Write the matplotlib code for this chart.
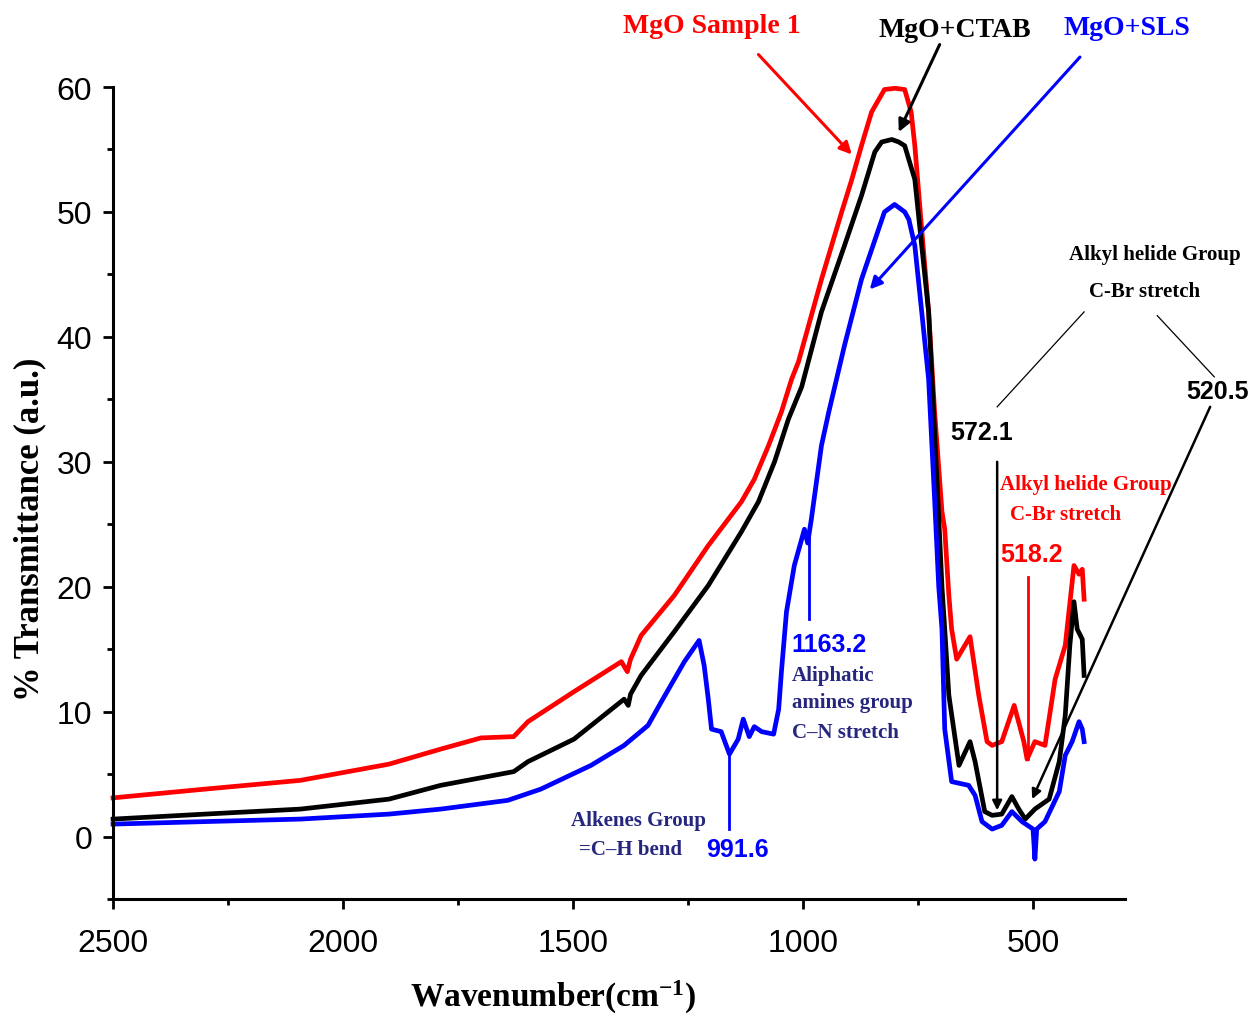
import matplotlib
matplotlib.use('Agg')
import matplotlib.pyplot as plt
from matplotlib.ticker import MultipleLocator

# FTIR spectra (wavenumber cm-1, % transmittance)
wn_red = [2500, 2300, 2093, 1900, 1788, 1700, 1629, 1598, 1498, 1395, 1382, 1375, 1352,
          1280, 1206, 1134, 1106, 1075, 1047, 1025, 1010, 960, 916, 894, 873, 851, 823, 800, 779,
          765, 757, 742, 727, 714, 698, 692, 683, 677, 666, 637, 618, 600, 589, 568, 541, 520,
          513, 496, 474, 452, 430, 411, 400, 393, 389]
t_red = [3.1, 3.8, 4.5, 5.8, 7.0, 7.9, 8.0, 9.2, 11.6, 14.0, 13.2, 14.2, 16.1,
         19.3, 23.3, 26.8, 28.6, 31.3, 34.0, 36.6, 38.0, 44.6, 50.0, 52.6, 55.3, 58.0, 59.8, 59.9, 59.8,
         58.0, 55.3, 48.6, 42.0, 34.0, 26.0, 24.6, 19.3, 16.6, 14.2, 16.0, 11.3, 7.6, 7.3, 7.6, 10.5, 7.6,
         6.2, 7.6, 7.3, 12.6, 15.3, 21.7, 21.0, 21.4, 19.0]

wn_black = [2500, 2300, 2093, 1900, 1788, 1629, 1598, 1498, 1389, 1380, 1375, 1352, 1280,
            1206, 1134, 1097, 1062, 1032, 1003, 960, 910, 873, 844, 829, 807, 792, 779, 757, 742,
            727, 716, 705, 698, 692, 683, 661, 637, 626, 605, 589, 568, 546, 531, 517, 496,
            465, 443, 430, 420, 411, 404, 393, 389]
t_black = [1.4, 1.8, 2.2, 3.0, 4.1, 5.2, 6.0, 7.8, 11.0, 10.5, 11.4, 12.9, 16.4,
           20.1, 24.4, 26.8, 30.0, 33.4, 36.0, 42.0, 47.3, 51.3, 54.8, 55.6, 55.8, 55.6, 55.3, 52.6, 47.3,
           42.0, 34.0, 25.5, 20.0, 16.6, 11.3, 5.7, 7.6, 6.0, 2.0, 1.7, 1.8, 3.2, 2.2, 1.4, 2.2,
           3.0, 6.0, 9.7, 15.3, 18.8, 16.6, 15.8, 12.9]

wn_blue = [2500, 2300, 2093, 1900, 1788, 1642, 1570, 1461, 1389, 1337, 1308, 1258, 1226,
           1215, 1206, 1199, 1178, 1160, 1141, 1130, 1117, 1106, 1090, 1064, 1053, 1047,
           1036, 1019, 997, 990, 982, 960, 944, 910, 873, 836, 823, 801, 779, 770, 757, 742, 727,
           714, 705, 698, 692, 677, 640, 626, 611, 589, 568, 546, 524, 500, 496, 492, 474,
           443, 430, 415, 400, 393, 389]
t_blue = [1.0, 1.2, 1.4, 1.8, 2.2, 2.9, 3.8, 5.7, 7.3, 8.9, 10.8, 14.0, 15.7,
          13.7, 11.0, 8.6, 8.4, 6.6, 7.8, 9.4, 8.0, 8.8, 8.4, 8.2, 10.2, 13.2,
          18.0, 21.7, 24.6, 23.5, 25.4, 31.3, 34.0, 39.3, 44.6, 48.6, 50.0, 50.6, 50.0, 49.4, 47.3, 42.0, 36.6,
          27.0, 20.0, 16.6, 8.6, 4.4, 4.1, 3.3, 1.2, 0.6, 0.9, 2.0, 1.2, 0.6, -1.8, 0.6, 1.2,
          3.6, 6.5, 7.6, 9.2, 8.6, 7.6]

serif = 'Liberation Serif'
sans = 'Liberation Sans'
navy = '#26267f'

plt.rcParams['mathtext.fontset'] = 'custom'
plt.rcParams['mathtext.rm'] = 'Liberation Serif:bold'
plt.rcParams['mathtext.it'] = 'Liberation Serif:bold'
plt.rcParams['mathtext.bf'] = 'Liberation Serif:bold'

fig = plt.figure(figsize=(12.52, 10.2), dpi=100)
ax = fig.add_axes([0.0903, 0.1176, 0.8083, 0.7961])

ax.plot(wn_red, t_red, color='#ff0000', lw=3.4, clip_on=False)
ax.plot(wn_black, t_black, color='black', lw=3.4, clip_on=False)
ax.plot(wn_blue, t_blue, color='#0000ff', lw=3.4, clip_on=False)

ax.set_xlim(2500, 300)
ax.set_ylim(-5, 60)
ax.spines['top'].set_visible(False)
ax.spines['right'].set_visible(False)
for s in ['left', 'bottom']:
    ax.spines[s].set_linewidth(2.2)
ax.xaxis.set_major_locator(MultipleLocator(500))
ax.xaxis.set_minor_locator(MultipleLocator(250))
ax.yaxis.set_major_locator(MultipleLocator(10))
ax.yaxis.set_minor_locator(MultipleLocator(5))
ax.tick_params(which='major', direction='out', length=7, width=2)
ax.tick_params(which='minor', direction='out', length=4.5, width=2)
ax.tick_params(axis='x', which='major', pad=14)
ax.tick_params(axis='y', which='major', pad=8)
for lab in ax.get_xticklabels() + ax.get_yticklabels():
    lab.set_fontfamily(sans)
    lab.set_fontsize(23)

ax.set_xlabel('Wavenumber(cm$^{-1}$)', fontfamily=serif, fontweight='bold', fontsize=24)
ax.xaxis.set_label_coords(0.435, -0.097)
ax.set_ylabel('% Transmittance (a.u.)', fontfamily=serif, fontweight='bold', fontsize=25)
ax.yaxis.set_label_coords(-0.066, 0.456)

# sample labels with arrows
ax.text(1199, 64.9, 'MgO Sample 1', color='#ff0000', fontfamily=serif, fontweight='bold',
        fontsize=20, ha='center', va='center', clip_on=False)
ax.text(670, 64.6, 'MgO+CTAB', color='black', fontfamily=serif, fontweight='bold',
        fontsize=20, ha='center', va='center', clip_on=False)
ax.text(295, 64.8, 'MgO+SLS', color='#0000ff', fontfamily=serif, fontweight='bold',
        fontsize=20, ha='center', va='center', clip_on=False)
ap = dict(arrowstyle='-|>', lw=2.2, mutation_scale=18, shrinkA=0, shrinkB=0)
ax.annotate('', xy=(894, 54.6), xytext=(1097, 62.6), annotation_clip=False,
            arrowprops=dict(ap, color='#ff0000'))
ax.annotate('', xy=(792, 56.4), xytext=(703, 63.4), annotation_clip=False,
            arrowprops=dict(ap, color='black'))
ax.annotate('', xy=(855, 43.8), xytext=(398, 62.4), annotation_clip=False,
            arrowprops=dict(ap, color='#0000ff'))

# black peak annotations
ax.text(236, 46.6, 'Alkyl helide Group', color='black', fontfamily=serif, fontweight='bold',
        fontsize=15, ha='center', va='center', clip_on=False)
ax.text(258, 43.7, 'C-Br stretch', color='black', fontfamily=serif, fontweight='bold',
        fontsize=15, ha='center', va='center', clip_on=False)
ax.plot([389, 578], [42.0, 34.4], color='black', lw=0.9, clip_on=False)
ax.plot([230, 106], [41.7, 36.8], color='black', lw=0.9, clip_on=False)
ax.text(611, 32.4, '572.1', color='black', fontfamily=sans, fontweight='bold',
        fontsize=18, ha='center', va='center', clip_on=False)
ax.text(99, 35.7, '520.5', color='black', fontfamily=sans, fontweight='bold',
        fontsize=18, ha='center', va='center', clip_on=False)
ap2 = dict(arrowstyle='-|>', lw=1.8, mutation_scale=14, shrinkA=0, shrinkB=0, color='black')
ax.annotate('', xy=(578, 2.1), xytext=(578, 30.0), annotation_clip=False, arrowprops=ap2)
ax.annotate('', xy=(502, 3.0), xytext=(115, 34.4), annotation_clip=False, arrowprops=ap2)

# red peak annotations
ax.text(572, 28.2, 'Alkyl helide Group', color='#ff0000', fontfamily=serif, fontweight='bold',
        fontsize=15, ha='left', va='center', clip_on=False)
ax.text(550, 25.8, 'C-Br stretch', color='#ff0000', fontfamily=serif, fontweight='bold',
        fontsize=15, ha='left', va='center', clip_on=False)
ax.text(572, 22.6, '518.2', color='#ff0000', fontfamily=sans, fontweight='bold',
        fontsize=18, ha='left', va='center', clip_on=False)
ax.plot([511, 511], [20.8, 6.2], color='#ff0000', lw=2)

# blue peak annotations
ax.plot([988, 988], [24.1, 17.4], color='#0000ff', lw=2)
ax.text(1025, 15.4, '1163.2', color='#0000ff', fontfamily=sans, fontweight='bold',
        fontsize=18, ha='left', va='center')
for yy, s in zip([12.9, 10.8, 8.4], ['Aliphatic', 'amines group', 'C\u2013N stretch']):
    ax.text(1025, yy, s, color=navy, fontfamily=serif, fontweight='bold',
            fontsize=15, ha='left', va='center')
ax.plot([1160, 1160], [6.6, 0.6], color='#0000ff', lw=2)
ax.text(1143, -1.0, '991.6', color='#0000ff', fontfamily=sans, fontweight='bold',
        fontsize=18, ha='center', va='center')
ax.text(1358, 1.3, 'Alkenes Group', color=navy, fontfamily=serif, fontweight='bold',
        fontsize=15, ha='center', va='center')
ax.text(1376, -0.96, '=C\u2013H bend', color=navy, fontfamily=serif, fontweight='bold',
        fontsize=15, ha='center', va='center')

fig.savefig('out.png', dpi=100)
